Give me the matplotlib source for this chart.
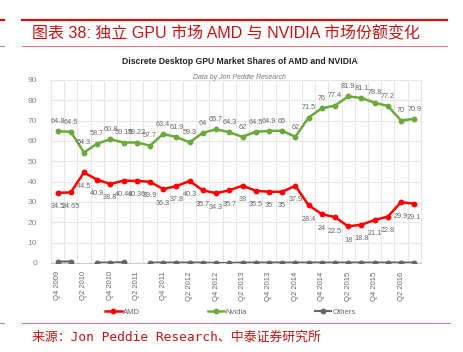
import numpy as np
import matplotlib.pyplot as plt
from matplotlib.lines import Line2D

quarters = ['Q4 2009', 'Q1 2010', 'Q2 2010', 'Q3 2010', 'Q4 2010', 'Q1 2011', 'Q2 2011',
            'Q3 2011', 'Q4 2011', 'Q1 2012', 'Q2 2012', 'Q3 2012', 'Q4 2012', 'Q1 2013',
            'Q2 2013', 'Q3 2013', 'Q4 2013', 'Q1 2014', 'Q2 2014', 'Q3 2014', 'Q4 2014',
            'Q1 2015', 'Q2 2015', 'Q3 2015', 'Q4 2015', 'Q1 2016', 'Q2 2016', 'Q3 2016']
amd = [34.5, 34.65, 44.5, 40.9, 38.8, 40.46, 40.36, 39.9, 36.3, 37.8, 40.3, 35.7, 34.3, 35.7,
       38, 35.5, 35, 35, 37.9, 28.4, 24, 22.5, 18, 18.8, 21.1, 22.8, 29.9, 29.1]
nvidia = [64.8, 64.5, 54.3, 58.7, 60.8, 59.18, 59.22, 57.7, 63.4, 61.9, 59.3, 64, 65.7, 64.3,
          62, 64.5, 64.9, 65, 62, 71.5, 76, 77.4, 81.9, 81.1, 78.8, 77.2, 70, 70.9]
others = [0.7, 0.7, np.nan, 0.2, 0.2, 0.4, np.nan, 0.2, 0.2, 0.2, 0.2, 0.2, 0.0, 0.0,
          0.2, 0.2, 0.2, 0.2, 0.2, 0.2, 0.2, 0.2, 0.2, 0.2, 0.2, 0.2, 0.2, 0.2]

RED = '#cc1111'
plt.rcParams['font.family'] = ['Liberation Sans', 'Noto Sans CJK SC']

fig = plt.figure(figsize=(4.63, 3.52), dpi=100)
ax = fig.add_axes([0.110, 0.253, 0.799, 0.520])

x = np.arange(len(quarters))
ax.plot(x, amd, color='#ff0000', lw=1.8, marker='o', ms=3.2, label='AMD', zorder=3)
ax.plot(x, nvidia, color='#6aaa3a', lw=1.8, marker='o', ms=3.2, label='Nvidia', zorder=3)
ax.plot(x, others, color='#666666', lw=1.5, marker='o', ms=3.2, label='Others', zorder=3)

for xi, v in zip(x, nvidia):
    ax.annotate(f'{v:g}', (xi, v), xytext=(0, 7), textcoords='offset points',
                ha='center', va='center', fontsize=5.2, color='#666666')
for xi, v in zip(x, amd):
    ax.annotate(f'{v:g}', (xi, v), xytext=(0, -10), textcoords='offset points',
                ha='center', va='center', fontsize=5.2, color='#666666')

ax.set_xlim(-0.5, len(quarters) - 0.5)
ax.set_ylim(0, 90)
ax.set_yticks(np.arange(0, 91, 10))
ax.set_xticks(x[::2])
ax.set_xticklabels(quarters[::2], rotation=90, fontsize=5.5, color='#666666')
ax.set_xticks(np.arange(-0.5, len(quarters)), minor=True)
ax.tick_params(axis='y', labelsize=6, colors='#888888', length=0, pad=10)
ax.tick_params(axis='x', which='both', length=0, pad=6)
ax.grid(True, axis='y', color='#e6e6e6', lw=0.8)
ax.grid(True, axis='x', which='minor', color='#e6e6e6', lw=0.8)
for s in ax.spines.values():
    s.set_color('#e6e6e6')
    s.set_linewidth(0.8)
ax.spines['bottom'].set_color('#cccccc')

fig.text(0.518, 0.826, 'Discrete Desktop GPU Market Shares of AMD and NVIDIA',
         ha='center', va='center', fontsize=6.2, fontweight='bold', color='#222222')
fig.text(0.518, 0.780, 'Data by Jon Peddie Research', ha='center', va='center',
         fontsize=5, style='italic', color='#777777')

fig.legend(loc='center', bbox_to_anchor=(0.497, 0.113), ncol=3, frameon=False,
           fontsize=5.5, handlelength=2.2, columnspacing=8.9, handletextpad=0.1,
           labelcolor='#666666')

# report header and footer
fig.add_artist(Line2D([0.048, 0.966], [0.943, 0.943], color=RED, lw=1.6))
fig.add_artist(Line2D([0.0, 0.008], [0.943, 0.943], color=RED, lw=1.6))
fig.add_artist(Line2D([0.048, 0.966], [0.870, 0.870], color=RED, lw=0.6, alpha=0.7))
fig.add_artist(Line2D([0.0, 0.008], [0.870, 0.870], color=RED, lw=0.6, alpha=0.7))
fig.add_artist(Line2D([0.048, 0.972], [0.083, 0.083], color=RED, lw=0.6, alpha=0.7))
fig.add_artist(Line2D([0.0, 0.008], [0.083, 0.083], color=RED, lw=0.6, alpha=0.7))
fig.text(0.069, 0.906, '图表 38: 独立 GPU 市场 AMD 与 NVIDIA 市场份额变化', ha='left', va='center',
         fontsize=11.5, color=RED, family=['Liberation Sans', 'Noto Sans CJK SC'])
fig.text(0.069, 0.041, '来源：Jon Peddie Research、中泰证券研究所', ha='left', va='center',
         fontsize=9.3, color=RED, family=['DejaVu Sans Mono', 'Noto Sans CJK SC'])

fig.savefig('out.png', dpi=100)
